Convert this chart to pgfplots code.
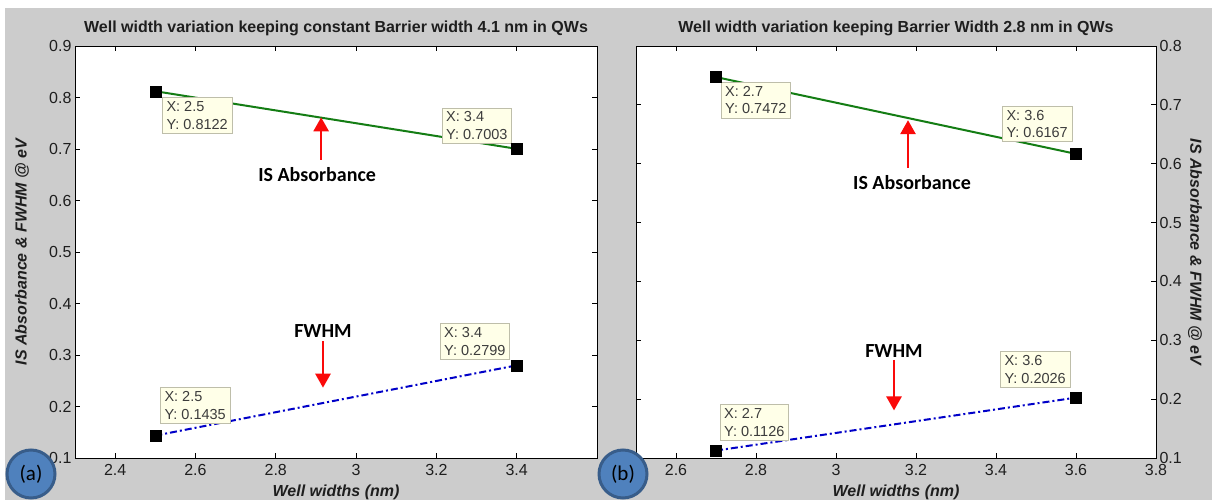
\documentclass[border=0pt]{standalone}
\usepackage{pgfplots}
\pgfplotsset{compat=1.18}
\usepackage{fontspec}
\setmainfont{Liberation Sans}
\newfontfamily\calibri{Carlito}
\usetikzlibrary{arrows.meta}
\definecolor{bggray}{RGB}{204,204,204}
\definecolor{isgreen}{RGB}{20,125,20}
\definecolor{fwblue}{RGB}{0,0,200}
\definecolor{arrred}{RGB}{250,10,10}
\definecolor{tipfill}{RGB}{255,255,232}
\definecolor{tipdraw}{RGB}{190,190,170}
\definecolor{circfill}{RGB}{79,129,189}
\definecolor{circdraw}{RGB}{56,93,138}
\definecolor{txt}{RGB}{30,30,30}
\definecolor{tiptxt}{RGB}{60,60,60}

\pgfplotstableread{
x y
2.5 0.8122
3.4 0.7003
}\absA
\pgfplotstableread{
x y
2.5 0.1435
3.4 0.2799
}\fwhmA
\pgfplotstableread{
x y
2.7 0.7472
3.6 0.6167
}\absB
\pgfplotstableread{
x y
2.7 0.1126
3.6 0.2026
}\fwhmB

\tikzset{
  dtip/.style={draw=tipdraw, fill=tipfill, align=left, text=tiptxt,
    font=\fontsize{14.5}{17.5}\selectfont, inner sep=4pt},
  isline/.style={isgreen, line width=2pt},
  fwline/.style={fwblue, line width=2pt, dash pattern=on 7pt off 3pt on 2pt off 3pt},
  redarrow/.style={arrred, line width=2.6pt, -{Triangle[length=14pt,width=15pt]}},
  lab/.style={font=\calibri\bfseries\fontsize{20}{20}\selectfont, text=black},
}
\pgfplotsset{
  common/.style={
    scale only axis, anchor=south west,
    axis background/.style={fill=white},
    axis line style={black, line width=0.8pt},
    tick align=inside, major tick length=5pt,
    tick style={black, line width=0.8pt},
    tick label style={font=\fontsize{16}{16}\selectfont, text=txt},
    xticklabel style={yshift=-3pt},
    /pgf/number format/assume math mode=true,
    title style={font=\bfseries\fontsize{16}{16}\selectfont, text=txt, at={(0.5,1)}, anchor=south, yshift=1pt},
    every axis x label/.style={at={(rel axis cs:0.5,0)}, anchor=center, yshift=-34pt,
      font=\bfseries\itshape\fontsize{16}{16}\selectfont, text=txt},
    clip=false,
  },
  mk/.style={only marks, mark=square*, mark size=5.5pt, black},
}

\begin{document}
\begin{tikzpicture}
\path[use as bounding box] (0pt,0pt) rectangle (1212pt,500pt);
\fill[bggray] (5pt,0pt) rectangle (1212pt,492pt);

% ---------- panel (a)
\begin{axis}[common, at={(75pt,42pt)}, width=522pt, height=412pt,
  xmin=2.3, xmax=3.6, ymin=0.1, ymax=0.9,
  xtick={2.4,2.6,2.8,3.0,3.2,3.4}, xticklabels={2.4,2.6,2.8,3,3.2,3.4},
  ytick={0.1,0.2,0.3,0.4,0.5,0.6,0.7,0.8,0.9},
  yticklabels={0.1,0.2,0.3,0.4,0.5,0.6,0.7,0.8,0.9},
  title={Well width variation keeping constant Barrier width 4.1 nm in QWs},
  xlabel={Well widths (nm)},
  every axis y label/.style={at={(rel axis cs:0,0.5)}, anchor=center, xshift=-53pt, rotate=90,
    font=\bfseries\itshape\fontsize{16}{16}\selectfont, text=txt},
  ylabel={IS Absorbance \& FWHM @ eV},
]
\addplot[isline] table[x=x,y=y] {\absA};
\addplot[fwline] table[x=x,y=y] {\fwhmA};
\addplot[mk] table[x=x,y=y] {\absA};
\addplot[mk] table[x=x,y=y] {\fwhmA};
\node[dtip, anchor=north west] at ([shift={(7pt,-6pt)}]axis cs:2.5,0.8122) {X: 2.5\\Y: 0.8122};
\node[dtip, anchor=south east] at ([shift={(-5pt,5pt)}]axis cs:3.4,0.7003) {X: 3.4\\Y: 0.7003};
\node[dtip, anchor=south west] at ([shift={(5pt,12pt)}]axis cs:2.5,0.1435) {X: 2.5\\Y: 0.1435};
\node[dtip, anchor=south east] at ([shift={(-7pt,6pt)}]axis cs:3.4,0.2799) {X: 3.4\\Y: 0.2799};
\draw[redarrow] (axis cs:2.913,0.6788) -- (axis cs:2.913,0.7615);
\node[lab] at (axis cs:2.903,0.650) {IS Absorbance};
\draw[redarrow] (axis cs:2.9176,0.327) -- (axis cs:2.9176,0.2365);
\node[lab] at (axis cs:2.9176,0.346) {FWHM};
\end{axis}

% ---------- panel (b)
\begin{axis}[common, at={(636pt,42pt)}, width=520pt, height=412pt,
  xmin=2.5, xmax=3.8, ymin=0.1, ymax=0.8,
  xtick={2.6,2.8,3.0,3.2,3.4,3.6,3.8}, xticklabels={2.6,2.8,3,3.2,3.4,3.6,3.8},
  ytick={0.1,0.2,0.3,0.4,0.5,0.6,0.7,0.8},
  yticklabels={0.1,0.2,0.3,0.4,0.5,0.6,0.7,0.8},
  yticklabel pos=right,
  title={Well width variation keeping Barrier Width 2.8 nm in QWs},
  xlabel={Well widths (nm)},
  every axis y label/.style={at={(rel axis cs:1,0.5)}, anchor=center, xshift=39pt, rotate=-90,
    font=\bfseries\itshape\fontsize{16}{16}\selectfont, text=txt},
  ylabel={IS Absorbance \& FWHM @ eV},
]
\addplot[isline] table[x=x,y=y] {\absB};
\addplot[fwline] table[x=x,y=y] {\fwhmB};
\addplot[mk] table[x=x,y=y] {\absB};
\addplot[mk] table[x=x,y=y] {\fwhmB};
\node[dtip, anchor=north west] at ([shift={(5pt,-5pt)}]axis cs:2.7,0.7472) {X: 2.7\\Y: 0.7472};
\node[dtip, anchor=south east] at ([shift={(-4pt,12pt)}]axis cs:3.6,0.6167) {X: 3.6\\Y: 0.6167};
\node[dtip, anchor=south west] at ([shift={(4pt,10pt)}]axis cs:2.7,0.1126) {X: 2.7\\Y: 0.1126};
\node[dtip, anchor=south east] at ([shift={(-6pt,10pt)}]axis cs:3.6,0.2026) {X: 3.6\\Y: 0.2026};
\draw[redarrow] (axis cs:3.18,0.593) -- (axis cs:3.18,0.674);
\node[lab] at (axis cs:3.19,0.568) {IS Absorbance};
\draw[redarrow] (axis cs:3.145,0.2666) -- (axis cs:3.145,0.1808);
\node[lab] at (axis cs:3.145,0.2817) {FWHM};
\end{axis}

% panel labels
\draw[circdraw, line width=3pt, fill=circfill] (31pt,26pt) circle (24pt);
\node[font=\calibri\fontsize{21}{21}\selectfont] at (31pt,26pt) {(a)};
\draw[circdraw, line width=3pt, fill=circfill] (623pt,26pt) circle (24pt);
\node[font=\calibri\fontsize{21}{21}\selectfont] at (623pt,26pt) {(b)};
\end{tikzpicture}
\end{document}
